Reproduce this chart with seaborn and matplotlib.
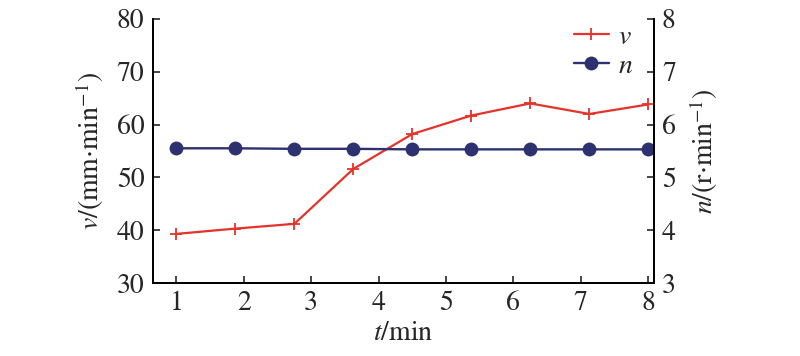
import matplotlib
matplotlib.use("Agg")
import matplotlib.pyplot as plt
import seaborn as sns
import numpy as np
import pandas as pd

# Data
t_min = [1.0, 1.875, 2.75, 3.625, 4.5, 5.375, 6.25, 7.125, 8.0]
v_vals = [39.3, 40.3, 41.2, 51.6, 58.2, 61.7, 64.0, 62.0, 63.8]
n_vals = [5.55, 5.55, 5.54, 5.54, 5.53, 5.53, 5.53, 5.53, 5.53]
x_ticks = [1, 2, 3, 4, 5, 6, 7, 8]
v_ticks = [30, 40, 50, 60, 70, 80]
n_ticks = [3, 4, 5, 6, 7, 8]

sns.set_style("ticks")
plt.rcParams['font.family'] = ['STIXGeneral', 'Liberation Serif', 'DejaVu Serif']
plt.rcParams['mathtext.fontset'] = 'stix'
plt.rcParams['xtick.direction'] = 'in'
plt.rcParams['ytick.direction'] = 'in'

red = '#E5332A'
navy = '#2D3170'

df = pd.DataFrame({'t': t_min, 'v': v_vals, 'n': n_vals})

fig = plt.figure(figsize=(8, 3.56), dpi=100)
ax = fig.add_axes([0.191, 0.205, 0.626, 0.742])
ax2 = ax.twinx()

sns.lineplot(data=df, x='t', y='v', ax=ax, color=red, marker='+', markersize=9,
             markeredgewidth=1.3, markeredgecolor=red, linewidth=1.6,
             label=r'$v$', legend=False)
sns.lineplot(data=df, x='t', y='n', ax=ax2, color=navy, marker='o', markersize=10,
             markeredgewidth=0, markeredgecolor=navy, linewidth=1.7,
             label=r'$n$', legend=False)

ax.set_xlim(0.65, 8.08)
ax.set_ylim(30, 80)
ax2.set_ylim(3, 8)
ax.set_xticks(x_ticks)
ax.set_yticks(v_ticks)
ax2.set_yticks(n_ticks)

fs = 20
ax.tick_params(axis='both', labelsize=fs, length=5, width=1.2, pad=6)
ax2.tick_params(axis='y', labelsize=fs, length=5, width=1.2, pad=6)

for a in (ax, ax2):
    a.spines['top'].set_visible(False)
    for s in ('left', 'right', 'bottom'):
        a.spines[s].set_linewidth(1.3)
        a.spines[s].set_color('black')

ax.set_xlabel(r'$t$/min', fontsize=fs, labelpad=3)
ax.set_ylabel(r'$v$/(mm$\cdot$min$^{-1}$)', fontsize=fs, labelpad=8)
ax2.set_ylabel(r'$n$/(r$\cdot$min$^{-1}$)', fontsize=fs, labelpad=8)

h1, l1 = ax.get_legend_handles_labels()
h2, l2 = ax2.get_legend_handles_labels()
ax2.legend(h1 + h2, l1 + l2, loc='upper right', bbox_to_anchor=(1.01, 1.075),
           frameon=False, fontsize=fs, handlelength=1.25, handletextpad=0.35,
           labelspacing=0.15)

fig.savefig('out.png', dpi=100)
